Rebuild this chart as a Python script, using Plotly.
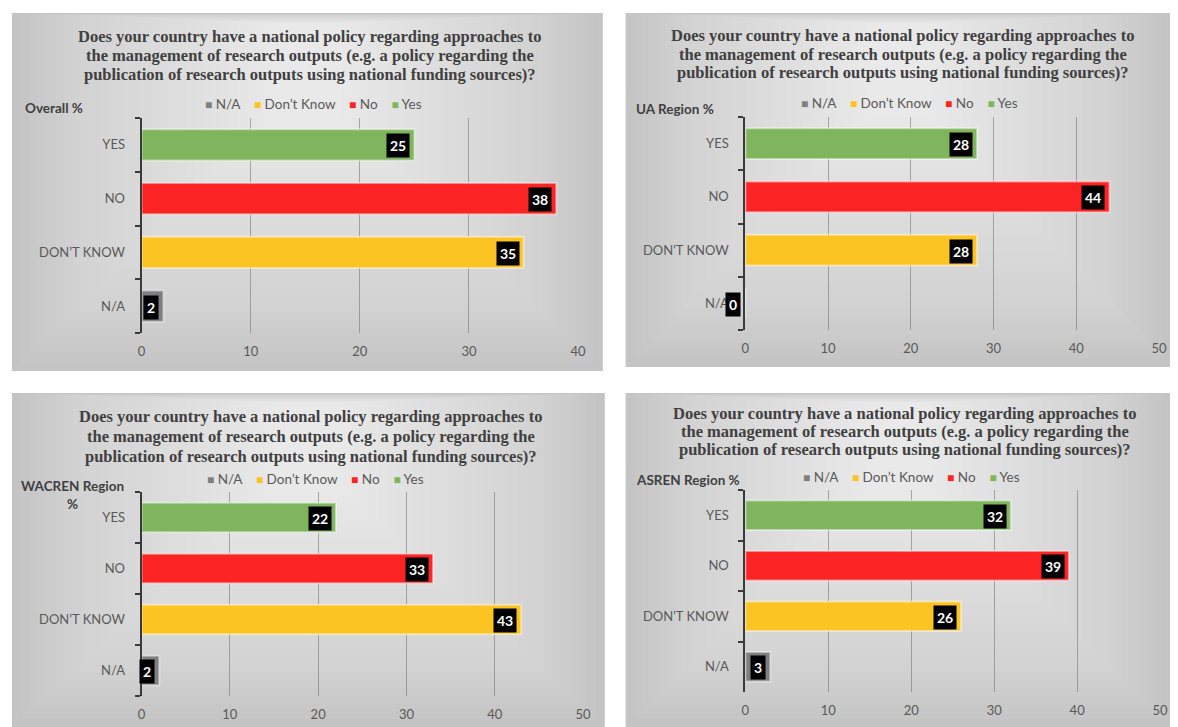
import plotly.graph_objects as go

# ---------------- data ----------------
categories = ["YES", "NO", "DON’T KNOW", "N/A"]          # top -> bottom
legend_names = ["N/A", "Don’t Know", "No", "Yes"]
region_labels = ["Overall %", "UA Region %", "WACREN Region<br>%", "ASREN Region %"]
overall = [25, 38, 35, 2]
ua_region = [28, 44, 28, 0]
wacren_region = [22, 33, 43, 2]
asren_region = [32, 39, 26, 3]
x_max = [40, 50, 50, 50]
title_lines = ["Does your country have a national policy regarding approaches to",
               "the management of research outputs (e.g. a policy regarding the",
               "publication of research outputs using national funding sources)?"]

# ---------------- styling ----------------
W, H = 1178, 727
cat_colors = {"YES": "#7fb65d", "NO": "#fb2323", "DON’T KNOW": "#fbc423", "N/A": "#7f7f7f"}
legend_colors = ["#7f7f7f", "#fbc423", "#fb2323", "#7fb65d"]
SANS = "Lato, Open Sans, sans-serif"

def px(x):
    return x / W

def py(y):
    return 1 - y / H

panels = [
    dict(box=(8, 13, 605, 371), xd=(139, 580), yd=(118, 333), title=(309, 37, 19),
         legend=(313, 104), label=(19, 108, "left")),
    dict(box=(628, 13, 1178, 367), xd=(749, 1167), yd=(117, 330), title=(908, 36, 18.5),
         legend=(915, 103), label=(636, 109, "left")),
    dict(box=(8, 393, 607, 727), xd=(139, 585), yd=(492, 696), title=(310, 416, 20),
         legend=(315, 479), label=(69, 495, "center")),
    dict(box=(628, 393, 1178, 727), xd=(749, 1168), yd=(490, 692), title=(910, 413, 18.5),
         legend=(917, 477), label=(636, 480, "left")),
]
series = [overall, ua_region, wacren_region, asren_region]

fig = go.Figure()
shapes = []
annotations = []
layout_axes = {}

for p, (panel, vals) in enumerate(zip(panels, series)):
    n = "" if p == 0 else str(p + 1)
    xa, ya = "x" + n, "y" + n
    x0, y0, x1, y1 = panel["box"]
    # gradient-ish background (light at top centre, darker at edges)
    shapes.append(dict(type="rect", xref="paper", yref="paper", x0=px(x0), x1=px(x1),
                       y0=py(y1), y1=py(y0), fillcolor="#c4c4c4", line_width=0, layer="below"))
    bw, bh = x1 - x0, y1 - y0
    steps = 32
    for i in range(1, steps + 1):
        f = i / steps
        ix0 = x0 + bw * 0.47 * f
        ix1 = x1 - bw * 0.47 * f
        iy0 = y0 + bh * 0.03 * f
        iy1 = y1 - bh * 0.75 * f
        shapes.append(dict(type="rect", xref="paper", yref="paper", x0=px(ix0), x1=px(ix1),
                           y0=py(iy1), y1=py(iy0), fillcolor="rgba(255,255,255,0.042)",
                           line_width=0, layer="below"))

    for cat, v in zip(categories, vals):
        fig.add_trace(go.Bar(
            x=[v], y=[cat], orientation="h", xaxis=xa, yaxis=ya,
            marker=dict(color=cat_colors[cat], line=dict(color="rgba(255,255,255,0.45)", width=2)),
            showlegend=False, hoverinfo="skip"))
        annotations.append(dict(
            x=v, y=cat, xref=xa, yref=ya, text="<b>%d</b>" % v, showarrow=False,
            xanchor="right", yanchor="middle", xshift=-4, yshift=-1,
            bgcolor="black", borderpad=3,
            font=dict(family=SANS, size=14, color="white")))

    layout_axes["xaxis" + n] = dict(
        domain=[px(panel["xd"][0]), px(panel["xd"][1])], range=[0, x_max[p]], anchor=ya,
        dtick=10, tick0=0, showgrid=True, gridcolor="rgba(110,110,110,0.55)", gridwidth=1,
        zeroline=False, showline=False, ticks="", ticklabelstandoff=9, layer="above traces",
        tickfont=dict(family=SANS, size=13, color="#595959"), fixedrange=True)
    layout_axes["yaxis" + n] = dict(
        domain=[py(panel["yd"][1]), py(panel["yd"][0])], anchor=xa,
        type="category", categoryorder="array", categoryarray=categories[::-1],
        range=[-0.5, 3.5], showline=True, linecolor="#3a3a3a", linewidth=2,
        ticks="outside", tickson="boundaries", ticklen=5, tickwidth=2, tickcolor="#3a3a3a",
        ticklabelstandoff=12, showgrid=False, layer="above traces",
        tickfont=dict(family=SANS, size=13, color="#595959"), fixedrange=True)

    # title, one annotation per line
    tx, ty, dy = panel["title"]
    for k, line in enumerate(title_lines):
        annotations.append(dict(
            x=px(tx), y=py(ty + k * dy), xref="paper", yref="paper", text="<b>" + line + "</b>",
            showarrow=False, xanchor="center", yanchor="middle", align="center",
            font=dict(family="Liberation Serif, Times New Roman, serif", size=16.5, color="#404040")))
    # legend
    lx, ly = panel["legend"]
    parts = []
    for name, col in zip(legend_names, legend_colors):
        parts.append("<span style='color:%s;font-size:12px'>■</span> %s" % (col, name))
    annotations.append(dict(
        x=px(lx), y=py(ly), xref="paper", yref="paper", text="    ".join(parts),
        showarrow=False, xanchor="center", yanchor="middle",
        font=dict(family=SANS, size=13.5, color="#595959")))
    # region label
    rx, ry, anchor = panel["label"]
    annotations.append(dict(
        x=px(rx), y=py(ry), xref="paper", yref="paper",
        text="<b>" + region_labels[p] + "</b>", showarrow=False,
        xanchor=anchor, yanchor="middle", align="center",
        font=dict(family=SANS, size=13.5, color="#404040")))

fig.update_layout(
    width=W, height=H, margin=dict(l=0, r=0, t=0, b=0),
    paper_bgcolor="white", plot_bgcolor="rgba(0,0,0,0)",
    barmode="overlay", bargap=0.42, showlegend=False,
    shapes=shapes, annotations=annotations, **layout_axes)

fig.write_html("out.html")
